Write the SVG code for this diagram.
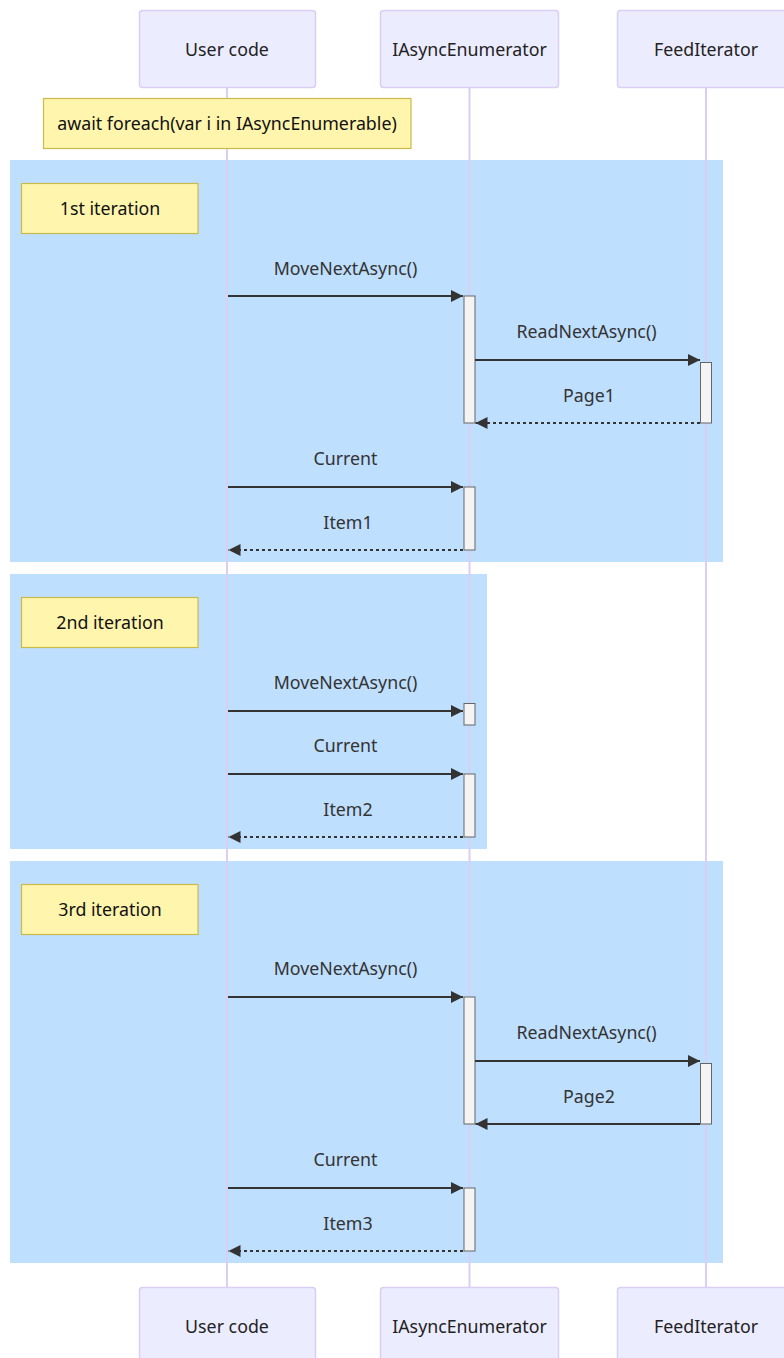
<svg xmlns="http://www.w3.org/2000/svg" width="784" height="1358" viewBox="0 0 784 1358">
  <style>
    text { font-family: "Noto Sans", "Open Sans", "Liberation Sans", sans-serif; font-size: 17.8px; }
    .actor rect { fill: #ececff; stroke: #dacef3; stroke-width: 1.5; }
    .actor text { fill: #222; text-anchor: middle; dominant-baseline: central; }
    .lifeline { stroke: #dacef3; stroke-width: 2; }
    .loop { fill: rgb(191,223,255); }
    .note rect { fill: #fff5ad; stroke: #c8bb4a; stroke-width: 1.2; }
    .note text { fill: #111; text-anchor: middle; dominant-baseline: central; }
    .act { fill: #f4f4f4; stroke: #666; stroke-width: 1; }
    .msg { stroke: #333; stroke-width: 2; fill: none; marker-end: url(#arrowhead); }
    .dashed { stroke-dasharray: 3 3; }
    .label { fill: #333; text-anchor: middle; dominant-baseline: central; }
  </style>
  <defs>
    <marker id="arrowhead" viewBox="0 0 10 10" refX="10" refY="5" markerWidth="12" markerHeight="12" markerUnits="userSpaceOnUse" orient="auto">
      <path d="M0,0 L10,5 L0,10 z" fill="#333"/>
    </marker>
  </defs>

  <!-- loop backgrounds -->
  <g id="loops">
    <rect class="loop" x="10" y="160" width="713" height="402"/>
    <rect class="loop" x="10" y="574" width="477" height="275"/>
    <rect class="loop" x="10" y="861" width="713" height="402"/>
  </g>

  <!-- lifelines -->
  <g id="lifelines">
    <line class="lifeline" x1="227" y1="87" x2="227" y2="1287"/>
    <line class="lifeline" x1="469.5" y1="87" x2="469.5" y2="1287"/>
    <line class="lifeline" x1="706" y1="87" x2="706" y2="1287"/>
  </g>

  <!-- participants (top) -->
  <g id="actor-user-top" class="actor">
    <rect x="139.5" y="10.5" width="176" height="77" rx="3"/>
    <text x="227" y="49">User code</text>
  </g>
  <g id="actor-enum-top" class="actor">
    <rect x="380.5" y="10.5" width="178" height="77" rx="3"/>
    <text x="469.5" y="49">IAsyncEnumerator</text>
  </g>
  <g id="actor-feed-top" class="actor">
    <rect x="617.5" y="10.5" width="177" height="77" rx="3"/>
    <text x="706" y="49">FeedIterator</text>
  </g>

  <!-- notes -->
  <g id="note-foreach" class="note">
    <rect x="43.5" y="98.5" width="367.5" height="50"/>
    <text x="227" y="123">await foreach(var i in IAsyncEnumerable)</text>
  </g>
  <g id="note-iter1" class="note">
    <rect x="21.5" y="183.5" width="176.5" height="50"/>
    <text x="110" y="207.5">1st iteration</text>
  </g>
  <g id="note-iter2" class="note">
    <rect x="21.5" y="597.5" width="176.5" height="50"/>
    <text x="110" y="621.5">2nd iteration</text>
  </g>
  <g id="note-iter3" class="note">
    <rect x="21.5" y="884.5" width="176.5" height="50"/>
    <text x="110" y="908.5">3rd iteration</text>
  </g>

  <!-- activations -->
  <g id="activations">
    <rect class="act" x="464" y="296" width="11" height="127"/>
    <rect class="act" x="700.5" y="362.5" width="11" height="60.5"/>
    <rect class="act" x="464" y="487" width="11" height="63"/>
    <rect class="act" x="464" y="703.5" width="11" height="21.5"/>
    <rect class="act" x="464" y="774" width="11" height="63"/>
    <rect class="act" x="464" y="997" width="11" height="127"/>
    <rect class="act" x="700.5" y="1063.5" width="11" height="60.5"/>
    <rect class="act" x="464" y="1188" width="11" height="63"/>
  </g>

  <!-- messages -->
  <g id="connectors">
    <line class="msg" x1="228" y1="296" x2="463" y2="296"/>
    <line class="msg" x1="475" y1="360" x2="700" y2="360"/>
    <line class="msg dashed" x1="700" y1="423" x2="475.5" y2="423"/>
    <line class="msg" x1="228" y1="487" x2="463" y2="487"/>
    <line class="msg dashed" x1="463" y1="550" x2="228.5" y2="550"/>

    <line class="msg" x1="228" y1="711" x2="463" y2="711"/>
    <line class="msg" x1="228" y1="774" x2="463" y2="774"/>
    <line class="msg dashed" x1="463" y1="837" x2="228.5" y2="837"/>

    <line class="msg" x1="228" y1="997" x2="463" y2="997"/>
    <line class="msg" x1="475" y1="1061" x2="700" y2="1061"/>
    <line class="msg" x1="700" y1="1124" x2="475.5" y2="1124"/>
    <line class="msg" x1="228" y1="1188" x2="463" y2="1188"/>
    <line class="msg dashed" x1="463" y1="1251" x2="228.5" y2="1251"/>
  </g>

  <!-- message labels -->
  <g id="labels">
    <text class="label" x="345.5" y="268">MoveNextAsync()</text>
    <text class="label" x="586.5" y="331">ReadNextAsync()</text>
    <text class="label" x="589" y="395">Page1</text>
    <text class="label" x="345.5" y="458">Current</text>
    <text class="label" x="348" y="522">Item1</text>

    <text class="label" x="345.5" y="682">MoveNextAsync()</text>
    <text class="label" x="345.5" y="745">Current</text>
    <text class="label" x="348" y="809">Item2</text>

    <text class="label" x="345.5" y="968">MoveNextAsync()</text>
    <text class="label" x="586.5" y="1032">ReadNextAsync()</text>
    <text class="label" x="589" y="1096">Page2</text>
    <text class="label" x="345.5" y="1159">Current</text>
    <text class="label" x="348" y="1223">Item3</text>
  </g>

  <!-- participants (bottom) -->
  <g id="actor-user-bottom" class="actor">
    <rect x="139.5" y="1287.5" width="176" height="77" rx="3"/>
    <text x="227" y="1326">User code</text>
  </g>
  <g id="actor-enum-bottom" class="actor">
    <rect x="380.5" y="1287.5" width="178" height="77" rx="3"/>
    <text x="469.5" y="1326">IAsyncEnumerator</text>
  </g>
  <g id="actor-feed-bottom" class="actor">
    <rect x="617.5" y="1287.5" width="177" height="77" rx="3"/>
    <text x="706" y="1326">FeedIterator</text>
  </g>
</svg>
